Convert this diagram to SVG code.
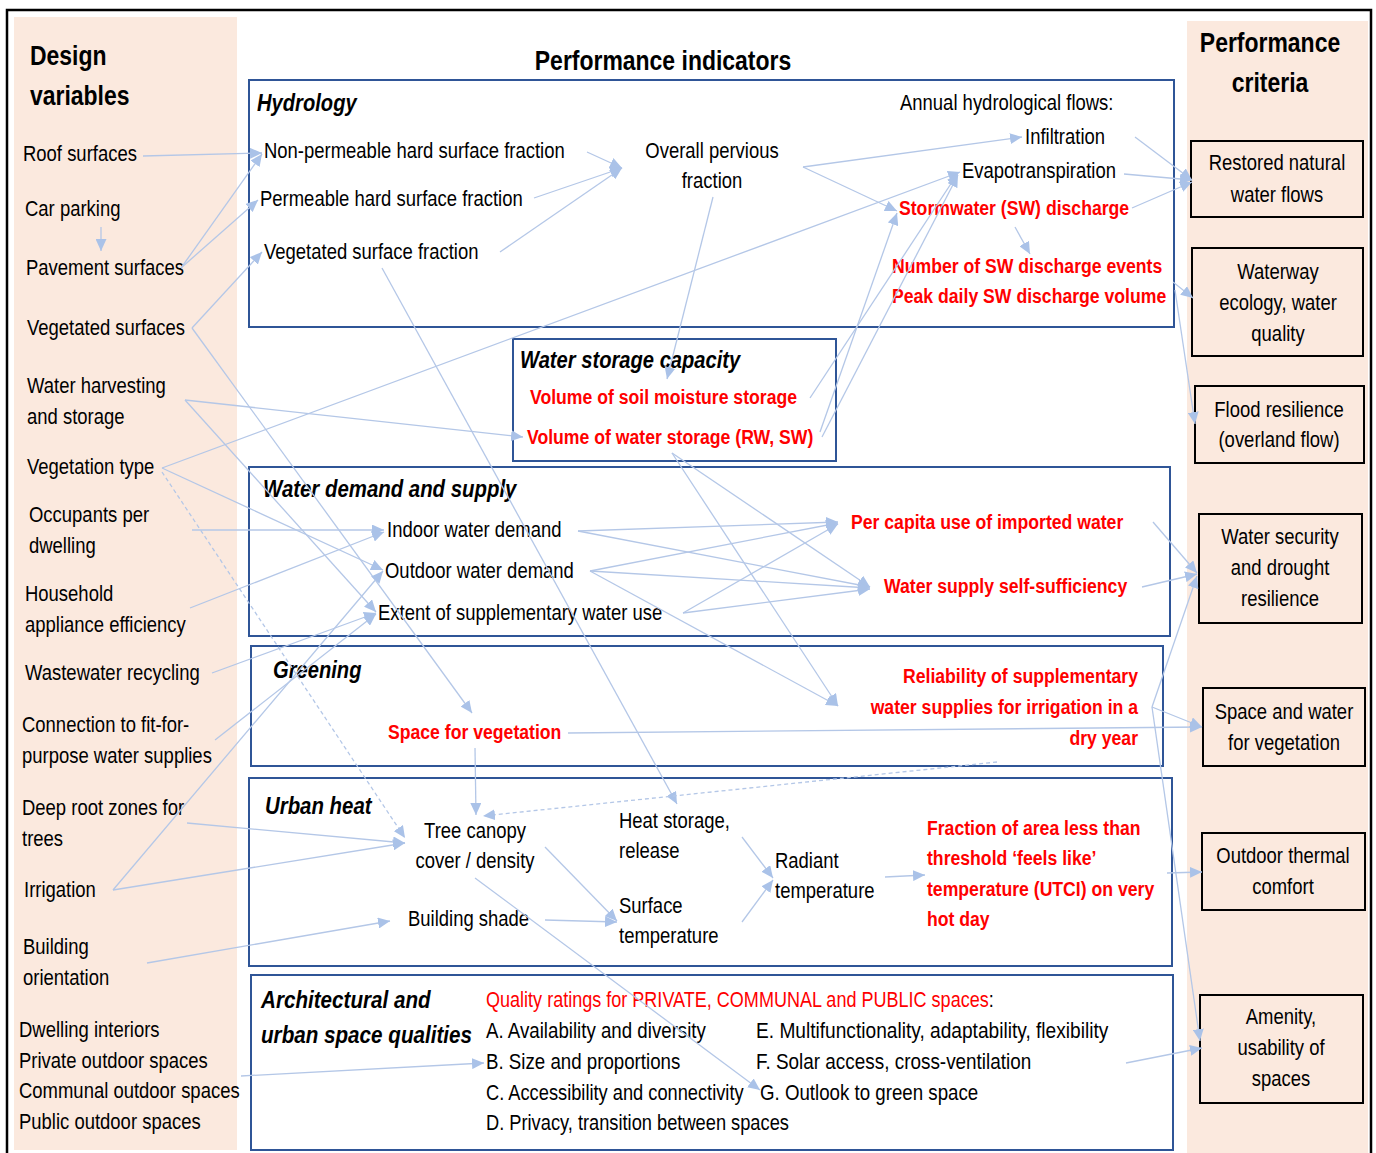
<svg xmlns="http://www.w3.org/2000/svg" width="1376" height="1153" viewBox="0 0 1376 1153">
<defs>
<style>
text{font-family:"Liberation Sans",Arial,sans-serif;font-size:22px;fill:#000}
.r{font-size:21px;font-weight:bold;fill:#FF0000}
.rq{fill:#FF0000}
.h{font-size:24px;font-weight:bold;font-style:italic}
.ttl{font-size:28px;font-weight:bold}
.c{text-anchor:middle}
.e{text-anchor:end}
.pi{fill:none;stroke:#2F5597;stroke-width:2}
.pc{fill:#FBE9DE;stroke:#000;stroke-width:2}
.ln{fill:none;stroke:#B4C7E7;stroke-width:1.3;marker-end:url(#ah)}
.ds{stroke-dasharray:4 3}
</style>
<marker id="ah" markerUnits="userSpaceOnUse" markerWidth="13" markerHeight="11" refX="12" refY="5.5" orient="auto">
<path d="M0,0 L12,5.5 L0,11 z" fill="#AAC2E8"/>
</marker>
</defs>
<rect width="1376" height="1153" fill="#fff"/>
<rect x="7" y="10" width="1364" height="1160" fill="none" stroke="#000" stroke-width="2.5"/>
<rect x="14" y="17" width="223" height="1133" fill="#FBE9DE"/>
<rect x="1187" y="21" width="181" height="1140" fill="#FBE9DE"/>

<g id="titles">
<text class="ttl" transform="translate(30 65) scale(.82 1)">Design</text>
<text class="ttl" transform="translate(30 105) scale(.82 1)">variables</text>
<text class="ttl c" transform="translate(663 70) scale(.82 1)">Performance indicators</text>
<text class="ttl c" transform="translate(1270 52) scale(.82 1)">Performance</text>
<text class="ttl c" transform="translate(1270 92) scale(.82 1)">criteria</text>
</g>

<g id="design-variables">
<text transform="translate(23 161) scale(.84 1)">Roof surfaces</text>
<text transform="translate(25 216) scale(.84 1)">Car parking</text>
<text transform="translate(26 275) scale(.84 1)">Pavement surfaces</text>
<text transform="translate(27 335) scale(.84 1)">Vegetated surfaces</text>
<text transform="translate(27 393) scale(.84 1)">Water harvesting</text>
<text transform="translate(27 424) scale(.84 1)">and storage</text>
<text transform="translate(27 474) scale(.84 1)">Vegetation type</text>
<text transform="translate(29 522) scale(.84 1)">Occupants per</text>
<text transform="translate(29 553) scale(.84 1)">dwelling</text>
<text transform="translate(25 601) scale(.84 1)">Household</text>
<text transform="translate(25 632) scale(.84 1)">appliance efficiency</text>
<text transform="translate(25 680) scale(.84 1)">Wastewater recycling</text>
<text transform="translate(22 732) scale(.84 1)">Connection to fit-for-</text>
<text transform="translate(22 763) scale(.84 1)">purpose water supplies</text>
<text transform="translate(22 815) scale(.84 1)">Deep root zones for</text>
<text transform="translate(22 846) scale(.84 1)">trees</text>
<text transform="translate(24 897) scale(.84 1)">Irrigation</text>
<text transform="translate(23 954) scale(.84 1)">Building</text>
<text transform="translate(23 985) scale(.84 1)">orientation</text>
<text transform="translate(19 1037) scale(.84 1)">Dwelling interiors</text>
<text transform="translate(19 1068) scale(.84 1)">Private outdoor spaces</text>
<text transform="translate(19 1098) scale(.84 1)">Communal outdoor spaces</text>
<text transform="translate(19 1129) scale(.84 1)">Public outdoor spaces</text>
</g>

<g id="hydrology">
<rect class="pi" x="249" y="80" width="925" height="247"/>
<text class="h" transform="translate(257 111) scale(.84 1)">Hydrology</text>
<text transform="translate(264 158) scale(.84 1)">Non-permeable hard surface fraction</text>
<text transform="translate(260 206) scale(.84 1)">Permeable hard surface fraction</text>
<text transform="translate(264 259) scale(.84 1)">Vegetated surface fraction</text>
<text class="c" transform="translate(712 158) scale(.84 1)">Overall pervious</text>
<text class="c" transform="translate(712 188) scale(.84 1)">fraction</text>
<text transform="translate(900 110) scale(.84 1)">Annual hydrological flows:</text>
<text transform="translate(1025 144) scale(.84 1)">Infiltration</text>
<text transform="translate(962 178) scale(.84 1)">Evapotranspiration</text>
<text class="r" transform="translate(899 215) scale(.84 1)">Stormwater (SW) discharge</text>
<text class="r" transform="translate(892 273) scale(.84 1)">Number of SW discharge events</text>
<text class="r" transform="translate(892 303) scale(.84 1)">Peak daily SW discharge volume</text>
</g>

<g id="water-storage">
<rect class="pi" x="513" y="339" width="323" height="122"/>
<text class="h" transform="translate(520 368) scale(.84 1)">Water storage capacity</text>
<text class="r" transform="translate(530 404) scale(.84 1)">Volume of soil moisture storage</text>
<text class="r" transform="translate(527 444) scale(.84 1)">Volume of water storage (RW, SW)</text>
</g>

<g id="water-demand">
<rect class="pi" x="249" y="467" width="921" height="169"/>
<text class="h" transform="translate(263 497) scale(.85 1)">Water demand and supply</text>
<text transform="translate(387 537) scale(.84 1)">Indoor water demand</text>
<text transform="translate(385 578) scale(.84 1)">Outdoor water demand</text>
<text transform="translate(378 620) scale(.84 1)">Extent of supplementary water use</text>
<text class="r" transform="translate(851 529) scale(.84 1)">Per capita use of imported water</text>
<text class="r" transform="translate(884 593) scale(.84 1)">Water supply self-sufficiency</text>
</g>

<g id="greening">
<rect class="pi" x="251" y="646" width="912" height="120"/>
<text class="h" transform="translate(273 678) scale(.84 1)">Greening</text>
<text class="r" transform="translate(388 739) scale(.84 1)">Space for vegetation</text>
<text class="r e" transform="translate(1138 683) scale(.84 1)">Reliability of supplementary</text>
<text class="r e" transform="translate(1138 714) scale(.84 1)">water supplies for irrigation in a</text>
<text class="r e" transform="translate(1138 745) scale(.84 1)">dry year</text>
</g>

<g id="urban-heat">
<rect class="pi" x="249" y="778" width="923" height="188"/>
<text class="h" transform="translate(265 814) scale(.85 1)">Urban heat</text>
<text class="c" transform="translate(475 838) scale(.84 1)">Tree canopy</text>
<text class="c" transform="translate(475 868) scale(.84 1)">cover / density</text>
<text transform="translate(619 828) scale(.84 1)">Heat storage,</text>
<text transform="translate(619 858) scale(.84 1)">release</text>
<text transform="translate(619 913) scale(.84 1)">Surface</text>
<text transform="translate(619 943) scale(.84 1)">temperature</text>
<text transform="translate(775 868) scale(.84 1)">Radiant</text>
<text transform="translate(775 898) scale(.84 1)">temperature</text>
<text transform="translate(408 926) scale(.84 1)">Building shade</text>
<text class="r" transform="translate(927 835) scale(.84 1)">Fraction of area less than</text>
<text class="r" transform="translate(927 865) scale(.84 1)">threshold ‘feels like’</text>
<text class="r" transform="translate(927 896) scale(.84 1)">temperature (UTCI) on very</text>
<text class="r" transform="translate(927 926) scale(.84 1)">hot day</text>
</g>

<g id="architecture">
<rect class="pi" x="251" y="975" width="922" height="175"/>
<text class="h" transform="translate(261 1008) scale(.86 1)">Architectural and</text>
<text class="h" transform="translate(261 1043) scale(.86 1)">urban space qualities</text>
<text transform="translate(486 1007) scale(.82 1)"><tspan class="rq">Quality ratings for PRIVATE, COMMUNAL and PUBLIC spaces</tspan>:</text>
<text transform="translate(486 1038) scale(.85 1)">A. Availability and diversity</text>
<text transform="translate(486 1069) scale(.85 1)">B. Size and proportions</text>
<text transform="translate(486 1100) scale(.83 1)">C. Accessibility and connectivity</text>
<text transform="translate(486 1130) scale(.83 1)">D. Privacy, transition between spaces</text>
<text transform="translate(756 1038) scale(.87 1)">E. Multifunctionality, adaptability, flexibility</text>
<text transform="translate(756 1069) scale(.86 1)">F. Solar access, cross-ventilation</text>
<text transform="translate(760 1100) scale(.85 1)">G. Outlook to green space</text>
</g>

<g id="criteria">
<g id="crit-restored"><rect class="pc" x="1191" y="141" width="172" height="76"/>
<text class="c" transform="translate(1277 170) scale(.84 1)">Restored natural</text><text class="c" transform="translate(1277 202) scale(.84 1)">water flows</text></g>
<g id="crit-waterway"><rect class="pc" x="1192" y="248" width="171" height="108"/>
<text class="c" transform="translate(1278 279) scale(.84 1)">Waterway</text><text class="c" transform="translate(1278 310) scale(.84 1)">ecology, water</text><text class="c" transform="translate(1278 341) scale(.84 1)">quality</text></g>
<g id="crit-flood"><rect class="pc" x="1195" y="386" width="169" height="77"/>
<text class="c" transform="translate(1279 417) scale(.84 1)">Flood resilience</text><text class="c" transform="translate(1279 447) scale(.84 1)">(overland flow)</text></g>
<g id="crit-security"><rect class="pc" x="1199" y="514" width="163" height="109"/>
<text class="c" transform="translate(1280 544) scale(.84 1)">Water security</text><text class="c" transform="translate(1280 575) scale(.84 1)">and drought</text><text class="c" transform="translate(1280 606) scale(.84 1)">resilience</text></g>
<g id="crit-space"><rect class="pc" x="1203" y="688" width="162" height="78"/>
<text class="c" transform="translate(1284 719) scale(.84 1)">Space and water</text><text class="c" transform="translate(1284 750) scale(.84 1)">for vegetation</text></g>
<g id="crit-thermal"><rect class="pc" x="1202" y="833" width="163" height="77"/>
<text class="c" transform="translate(1283 863) scale(.84 1)">Outdoor thermal</text><text class="c" transform="translate(1283 894) scale(.84 1)">comfort</text></g>
<g id="crit-amenity"><rect class="pc" x="1200" y="995" width="163" height="108"/>
<text class="c" transform="translate(1281 1024) scale(.84 1)">Amenity,</text><text class="c" transform="translate(1281 1055) scale(.84 1)">usability of</text><text class="c" transform="translate(1281 1086) scale(.84 1)">spaces</text></g>
</g>

<g id="connectors">
<line class="ln" x1="143" y1="156" x2="262" y2="153"/>
<line class="ln" x1="101" y1="227" x2="101" y2="251"/>
<line class="ln" x1="181" y1="268" x2="262" y2="154"/>
<line class="ln" x1="181" y1="268" x2="258" y2="200"/>
<line class="ln" x1="192" y1="328" x2="262" y2="252"/>
<line class="ln" x1="192" y1="328" x2="472" y2="713"/>
<line class="ln" x1="185" y1="400" x2="523" y2="437"/>
<line class="ln" x1="185" y1="400" x2="376" y2="612"/>
<line class="ln" x1="162" y1="468" x2="960" y2="172"/>
<line class="ln" x1="162" y1="468" x2="383" y2="570"/>
<line class="ln ds" x1="162" y1="472" x2="405" y2="838"/>
<line class="ln" x1="192" y1="530" x2="384" y2="530"/>
<line class="ln" x1="190" y1="608" x2="384" y2="532"/>
<line class="ln" x1="212" y1="673" x2="376" y2="613"/>
<line class="ln" x1="215" y1="740" x2="376" y2="614"/>
<line class="ln" x1="113" y1="890" x2="383" y2="571"/>
<line class="ln" x1="113" y1="890" x2="405" y2="843"/>
<line class="ln" x1="187" y1="823" x2="405" y2="843"/>
<line class="ln" x1="147" y1="963" x2="390" y2="921"/>
<line class="ln" x1="241" y1="1076" x2="484" y2="1063"/>
<line class="ln" x1="587" y1="152" x2="622" y2="168"/>
<line class="ln" x1="534" y1="198" x2="622" y2="168"/>
<line class="ln" x1="500" y1="252" x2="622" y2="168"/>
<line class="ln" x1="803" y1="167" x2="1022" y2="137"/>
<line class="ln" x1="803" y1="167" x2="897" y2="211"/>
<line class="ln" x1="713" y1="197" x2="667" y2="379"/>
<line class="ln" x1="382" y1="268" x2="677" y2="804"/>
<line class="ln" x1="810" y1="398" x2="958" y2="173"/>
<line class="ln" x1="820" y1="432" x2="897" y2="213"/>
<line class="ln" x1="822" y1="437" x2="958" y2="175"/>
<line class="ln" x1="1015" y1="227" x2="1030" y2="254"/>
<line class="ln" x1="1135" y1="137" x2="1192" y2="180"/>
<line class="ln" x1="1124" y1="174" x2="1192" y2="180"/>
<line class="ln" x1="1132" y1="208" x2="1192" y2="182"/>
<line class="ln" x1="1173" y1="282" x2="1193" y2="298"/>
<line class="ln" x1="1175" y1="290" x2="1195" y2="424"/>
<line class="ln" x1="672" y1="453" x2="870" y2="587"/>
<line class="ln" x1="672" y1="453" x2="838" y2="706"/>
<line class="ln" x1="578" y1="531" x2="838" y2="522"/>
<line class="ln" x1="578" y1="531" x2="870" y2="587"/>
<line class="ln" x1="590" y1="571" x2="838" y2="523"/>
<line class="ln" x1="590" y1="571" x2="870" y2="588"/>
<line class="ln" x1="590" y1="571" x2="838" y2="706"/>
<line class="ln" x1="683" y1="613" x2="838" y2="524"/>
<line class="ln" x1="683" y1="613" x2="870" y2="589"/>
<line class="ln" x1="1153" y1="522" x2="1197" y2="573"/>
<line class="ln" x1="1142" y1="587" x2="1197" y2="574"/>
<line class="ln" x1="1152" y1="707" x2="1197" y2="576"/>
<line class="ln" x1="1152" y1="707" x2="1202" y2="727"/>
<line class="ln" x1="568" y1="733" x2="1202" y2="727"/>
<line class="ln" x1="1152" y1="707" x2="1200" y2="1041"/>
<line class="ln" x1="475" y1="748" x2="476" y2="815"/>
<line class="ln ds" x1="997" y1="762" x2="483" y2="816"/>
<line class="ln" x1="545" y1="847" x2="617" y2="921"/>
<line class="ln" x1="545" y1="920" x2="617" y2="922"/>
<line class="ln" x1="475" y1="878" x2="760" y2="1090"/>
<line class="ln" x1="742" y1="837" x2="773" y2="878"/>
<line class="ln" x1="742" y1="922" x2="773" y2="880"/>
<line class="ln" x1="885" y1="877" x2="925" y2="875"/>
<line class="ln" x1="1167" y1="873" x2="1202" y2="872"/>
<line class="ln" x1="1126" y1="1063" x2="1202" y2="1048"/>
</g>
</svg>
